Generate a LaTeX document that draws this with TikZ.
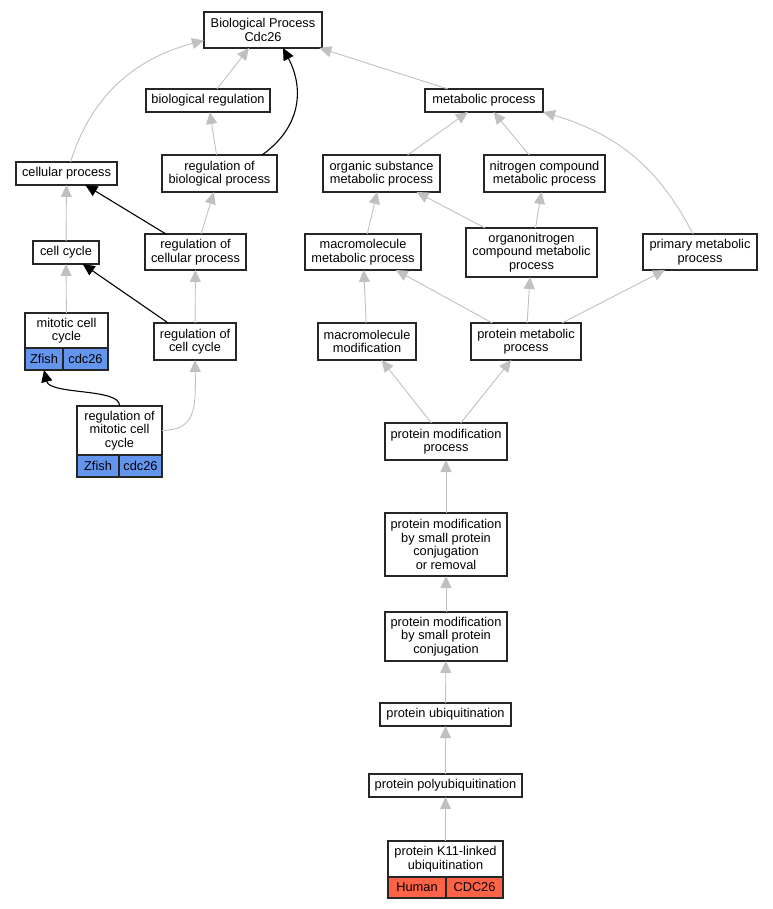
\documentclass[tikz,border=0pt]{standalone}
\usepackage{fontspec}
\setmainfont{Liberation Sans}
\usetikzlibrary{arrows.meta}
\definecolor{edgegray}{HTML}{C0C0C0}
\definecolor{zfishblue}{HTML}{6495ED}
\definecolor{humanred}{HTML}{FF6347}
\tikzset{
  term/.style={draw=black!85,line width=1.1pt,fill=white,align=center,inner sep=0pt,outer sep=0pt},
  cell/.style={draw=black!85,line width=1.1pt,inner sep=0pt,outer sep=0pt,minimum height=22,anchor=north west},
  isaedge/.style={draw=edgegray,line width=0.9pt,-{Triangle[length=12pt,width=11pt]}},
  regedge/.style={draw=black,line width=1.1pt,-{Triangle[length=12pt,width=11pt]}},
}
\begin{document}
\begin{tikzpicture}[x=1pt,y=-1pt,font=\fontsize{12.8}{13.5}\selectfont]
  \useasboundingbox (0,0) rectangle (772,909);
  % upper terms
  \node[term,minimum width=118,minimum height=36] (bp) at (263,30) {Biological Process\\Cdc26};
  \node[term,minimum width=124,minimum height=23] (bioreg) at (208,100.5) {biological regulation};
  \node[term,minimum width=118,minimum height=23] (metab) at (484,100.5) {metabolic process};
  \node[term,minimum width=101,minimum height=23] (cellproc) at (66.5,173.5) {cellular process};
  \node[term,minimum width=115,minimum height=37] (regbio) at (219.5,173.5) {regulation of\\biological process};
  \node[term,minimum width=117,minimum height=37] (orgsub) at (381.5,173.5) {organic substance\\metabolic process};
  \node[term,minimum width=121,minimum height=37] (nitro) at (544.5,173.5) {nitrogen compound\\metabolic process};
  \node[term,minimum width=66,minimum height=23] (cellcyc) at (66,252.5) {cell cycle};
  \node[term,minimum width=101,minimum height=36] (regcell) at (195.5,252) {regulation of\\cellular process};
  \node[term,minimum width=116,minimum height=36] (macromet) at (363,252) {macromolecule\\metabolic process};
  \node[term,minimum width=131,minimum height=49] (orgnit) at (531.5,252.5) {organonitrogen\\compound metabolic\\process};
  \node[term,minimum width=114,minimum height=36] (primet) at (700,252) {primary metabolic\\process};
  % middle terms
  \node[term,minimum width=83,minimum height=35] (mitcc) at (66.5,330.5) {mitotic cell\\cycle};
  \node[cell,fill=zfishblue,minimum width=38] (mitccZ) at (mitcc.south west) {Zfish};
  \node[cell,fill=zfishblue,minimum width=45] (mitccG) at (mitccZ.north east) {cdc26};
  \node[term,minimum width=82,minimum height=37] (regcc) at (195,341.5) {regulation of\\cell cycle};
  \node[term,minimum width=98,minimum height=37] (macromod) at (367,341.5) {macromolecule\\modification};
  \node[term,minimum width=110,minimum height=37] (protmet) at (526,341.5) {protein metabolic\\process};
  \node[term,minimum width=85,minimum height=49] (regmit) at (119.5,430.5) {regulation of\\mitotic cell\\cycle};
  \node[cell,fill=zfishblue,minimum width=42] (regmitZ) at (regmit.south west) {Zfish};
  \node[cell,fill=zfishblue,minimum width=43] (regmitG) at (regmitZ.north east) {cdc26};
  % lower chain
  \node[term,minimum width=122,minimum height=37] (protmod) at (446,441.5) {protein modification\\process};
  \node[term,minimum width=122,minimum height=63] (smallrem) at (446,544.5) {protein modification\\by small protein\\conjugation\\or removal};
  \node[term,minimum width=122,minimum height=49] (smallconj) at (446,636.5) {protein modification\\by small protein\\conjugation};
  \node[term,minimum width=131,minimum height=23] (ubiq) at (445.5,714.5) {protein ubiquitination};
  \node[term,minimum width=153,minimum height=23] (polyubiq) at (445.5,785.5) {protein polyubiquitination};
  \node[term,minimum width=115,minimum height=36] (k11) at (445.5,859) {protein K11-linked\\ubiquitination};
  \node[cell,fill=humanred,minimum width=58,minimum height=21] (k11H) at (k11.south west) {Human};
  \node[cell,fill=humanred,minimum width=57,minimum height=21] (k11C) at (k11H.north east) {CDC26};
  % is_a edges
  \draw[isaedge] ([xshift=4pt]cellproc.north) .. controls (90,100) and (130,60) .. (bp.190);
  \draw[isaedge] (bioreg) -- (bp);
  \draw[isaedge] (metab) -- (bp);
  \draw[isaedge] (regbio) -- (bioreg);
  \draw[isaedge] (orgsub) -- (metab);
  \draw[isaedge] (nitro) -- (metab);
  \draw[isaedge] ([xshift=-7pt]primet.north) .. controls (660,170) and (620,135) .. (metab.south east);
  \draw[isaedge] (cellcyc) -- (cellproc);
  \draw[isaedge] (regcell) -- (regbio);
  \draw[isaedge] (macromet) -- (orgsub);
  \draw[isaedge] (orgnit) -- (orgsub);
  \draw[isaedge] (orgnit) -- (nitro);
  \draw[isaedge] (mitcc) -- (cellcyc);
  \draw[isaedge] (regcc) -- (regcell);
  \draw[isaedge] (macromod) -- (macromet);
  \draw[isaedge] (protmet) -- (macromet);
  \draw[isaedge] (protmet) -- (orgnit);
  \draw[isaedge] (protmet) -- (primet);
  \draw[isaedge] (regmit.east) .. controls (195,430) and (196,410) .. (regcc.south);
  \draw[isaedge] (protmod) -- (macromod);
  \draw[isaedge] (protmod) -- (protmet);
  \draw[isaedge] (smallrem) -- (protmod);
  \draw[isaedge] (smallconj) -- (smallrem);
  \draw[isaedge] (ubiq) -- (smallconj);
  \draw[isaedge] (polyubiq) -- (ubiq);
  \draw[isaedge] (k11) -- (polyubiq);
  % regulates edges
  \draw[regedge] ([xshift=42.5pt]regbio.north) .. controls (300,128) and (305,90) .. ([xshift=20pt]bp.south);
  \draw[regedge] (regcell) -- (cellproc);
  \draw[regedge] (regcc) -- (cellcyc);
  \draw[regedge] (regmit.north) .. controls (121,388) and (50,395) .. (mitccZ.south);
\end{tikzpicture}
\end{document}
